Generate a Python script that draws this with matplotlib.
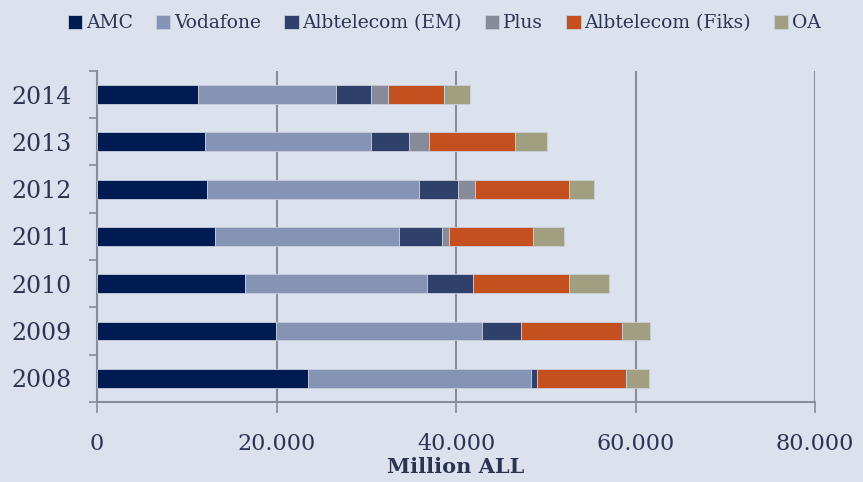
import numpy as np
import matplotlib.pyplot as plt
from matplotlib.ticker import FuncFormatter

# Datos (millones ALL)
anios = ["2008", "2009", "2010", "2011", "2012", "2013", "2014"]
amc = [23.5, 19.9, 16.5, 13.2, 12.3, 12.07, 11.25]
vodafone = [24.9, 23.0, 20.3, 20.4, 23.6, 18.5, 15.35]
albtelecom_em = [0.6, 4.3, 5.1, 4.8, 4.3, 4.2, 3.9]
plus = [0.0, 0.0, 0.0, 0.8, 1.9, 2.2, 1.9]
albtelecom_fiks = [9.9, 11.3, 10.7, 9.4, 10.5, 9.6, 6.3]
oa = [2.6, 3.1, 4.5, 3.4, 2.8, 3.6, 2.9]

series = [
    ("AMC", amc, "#001A52"),
    ("Vodafone", vodafone, "#8593B5"),
    ("Albtelecom (EM)", albtelecom_em, "#2F406B"),
    ("Plus", plus, "#878A99"),
    ("Albtelecom (Fiks)", albtelecom_fiks, "#C4501F"),
    ("OA", oa, "#A09F80"),
]

bg = "#DCE1EE"
txt = "#2B3553"
grid = "#8A8C96"

plt.rcParams['font.family'] = ['DejaVu Serif']

fig = plt.figure(figsize=(8.63, 4.82), dpi=100, facecolor=bg)
ax = fig.add_axes([0.1124, 0.166, 0.832, 0.687], facecolor=bg)

y = np.arange(len(anios))
left = np.zeros(len(anios))
for nombre, vals, color in series:
    vals = np.array(vals) * 1000
    ax.barh(y, vals, left=left, height=0.4, color=color, label=nombre,
            edgecolor="#C9CEDB", linewidth=0.6, zorder=3)
    left += vals

ax.set_xlim(0, 80000)
ax.set_ylim(-0.5, 6.5)
ax.set_xticks([0, 20000, 40000, 60000, 80000])
ax.xaxis.set_major_formatter(FuncFormatter(lambda v, p: f"{int(v):,}".replace(",", ".")))
ax.set_yticks(y)
ax.set_yticklabels(anios)
ax.set_yticks(np.arange(-0.5, 7, 1), minor=True)
ax.tick_params(axis="y", which="major", length=0, pad=18, labelsize=17, labelcolor=txt)
ax.tick_params(axis="y", which="minor", length=6, width=1.2, color=grid)
ax.tick_params(axis="x", length=8, width=1.2, color=grid, pad=14, labelsize=16, labelcolor=txt)

ax.grid(axis="x", color=grid, linewidth=1.5, zorder=0)
for s in ["top", "right"]:
    ax.spines[s].set_visible(False)
for s in ["left", "bottom"]:
    ax.spines[s].set_color(grid)
    ax.spines[s].set_linewidth(1.5)

ax.set_xlabel("Million ALL", fontsize=15, fontweight="bold", color=txt, labelpad=2)

fig.legend(loc="upper center", bbox_to_anchor=(0.515, 1.005), ncol=6, frameon=False,
           fontsize=13.5, labelcolor=txt, handlelength=0.75, handleheight=0.75,
           handletextpad=0.2, columnspacing=1.25)

fig.savefig("out.png", dpi=100, facecolor=bg)
